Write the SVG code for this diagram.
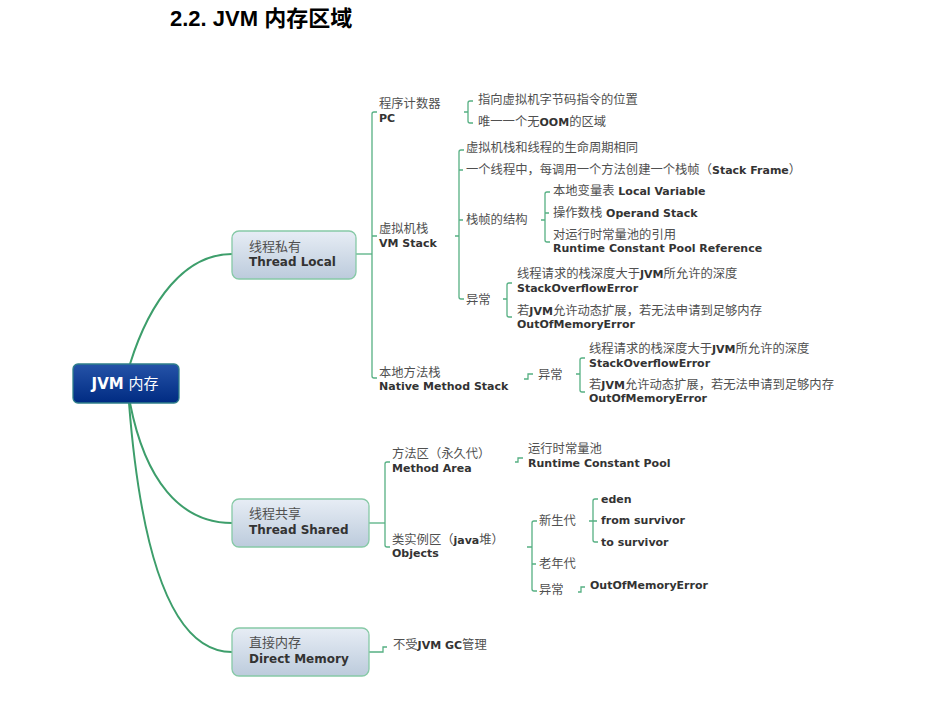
<svg xmlns="http://www.w3.org/2000/svg" width="926" height="719" viewBox="0 0 926 719">
<defs>
<linearGradient id="gJvm" x1="0" y1="0" x2="0" y2="1">
<stop offset="0" stop-color="#2553a8"/>
<stop offset="1" stop-color="#002b82"/>
</linearGradient>
<linearGradient id="gNode" x1="0" y1="0" x2="0" y2="1">
<stop offset="0" stop-color="#e7edf5"/>
<stop offset="1" stop-color="#bccbdc"/>
</linearGradient>
<style>
.t{font-family:"DejaVu Sans","Noto Sans CJK SC",sans-serif;font-size:12.3px;fill:#505050}
.b{font-weight:bold;font-size:11px;fill:#333}
.nt{font-family:"DejaVu Sans","Noto Sans CJK SC",sans-serif;font-size:13px;fill:#505050}
.nb{font-weight:bold;font-size:12px;fill:#333}
.ln{fill:none;stroke:#56b083;stroke-width:1.3}
.cv{fill:none;stroke:#3d9e6b;stroke-width:2}
.box{fill:url(#gNode);stroke:#86c9a6;stroke-width:1.3}
</style>
</defs>
<rect width="926" height="719" fill="#fff"/>
<text x="170" y="26" font-family="'Liberation Sans','Noto Sans CJK SC',sans-serif" font-weight="bold" font-size="22" fill="#000">2.2. JVM 内存区域</text>

<g id="connectors">
<path class="cv" d="M130,364 C150,300 185,254 232,254"/>
<path class="cv" d="M130,403 C145,480 180,523 232,523"/>
<path class="cv" d="M129,403 C139,530 165,652 232,652"/>
<path class="ln" d="M356,254 H372"/>
<path class="ln" d="M377,112 H374 Q372,112 372,114 V376 Q372,378 374,378 H377 M372,236 H377"/>
<path class="ln" d="M473,101 H470 Q468,101 468,103 V121 Q468,123 470,123 H473 M464,112 H468"/>
<path class="ln" d="M464,150 H461 Q459,150 459,152 V297 Q459,299 461,299 H464 M459,170 H463 M459,220 H463 M455,236 H459"/>
<path class="ln" d="M550,192 H547 Q545,192 545,194 V240 Q545,242 547,242 H550 M545,213 H549 M541,220 H545"/>
<path class="ln" d="M512,283 H509 Q507,283 507,285 V315 Q507,317 509,317 H512 M503,299 H507"/>
<path class="ln" d="M524,379 H528 V374 H533"/>
<path class="ln" d="M585,358 H582 Q580,358 580,360 V390 Q580,392 582,392 H585 M576,374 H580"/>
<path class="ln" d="M369,523 H385"/>
<path class="ln" d="M390,462 H387 Q385,462 385,464 V545 Q385,547 387,547 H390"/>
<path class="ln" d="M515,462 H518 V458 H523"/>
<path class="ln" d="M537,521 H534 Q532,521 532,523 V589 Q532,591 534,591 H537 M532,564 H536 M527,547 H532"/>
<path class="ln" d="M598,499 H595 Q593,499 593,501 V540 Q593,542 595,542 H598 M589,521 H597"/>
<path class="ln" d="M578,592 H581 V587 H585"/>
<path class="ln" d="M369,652 H383 V647 H387"/>
</g>

<g id="jvm">
<rect x="73" y="364" width="106" height="39" rx="5" fill="url(#gJvm)" stroke="#2f7f8a" stroke-width="1.3"/>
<text x="125" y="389" text-anchor="middle" font-family="'DejaVu Sans','Noto Sans CJK SC',sans-serif" font-size="15" fill="#fff"><tspan font-weight="bold">JVM</tspan> 内存</text>
</g>

<g id="thread-local">
<rect class="box" x="232" y="231" width="124" height="48" rx="7"/>
<text class="nt" x="249" y="251">线程私有</text>
<text class="nt" x="249" y="266"><tspan class="nb">Thread Local</tspan></text>
</g>
<g id="thread-shared">
<rect class="box" x="232" y="499" width="137" height="48" rx="7"/>
<text class="nt" x="249" y="518">线程共享</text>
<text class="nt" x="249" y="534"><tspan class="nb">Thread Shared</tspan></text>
</g>
<g id="direct-memory">
<rect class="box" x="232" y="628" width="137" height="48" rx="7"/>
<text class="nt" x="249" y="647">直接内存</text>
<text class="nt" x="249" y="663"><tspan class="nb">Direct Memory</tspan></text>
</g>

<g id="pc">
<text class="t" x="379" y="108">程序计数器</text>
<text class="t" x="379" y="122"><tspan class="b">PC</tspan></text>
</g>
<g id="pc-1"><text class="t" x="478" y="104">指向虚拟机字节码指令的位置</text></g>
<g id="pc-2"><text class="t" x="478" y="126">唯一一个无<tspan class="b">OOM</tspan>的区域</text></g>

<g id="vm-stack">
<text class="t" x="379" y="233">虚拟机栈</text>
<text class="t" x="379" y="247"><tspan class="b">VM Stack</tspan></text>
</g>
<g id="vm-1"><text class="t" x="466" y="152">虚拟机栈和线程的生命周期相同</text></g>
<g id="vm-2"><text class="t" x="466" y="174">一个线程中，每调用一个方法创建一个栈帧（<tspan class="b">Stack Frame</tspan>）</text></g>
<g id="vm-frame"><text class="t" x="466" y="224">栈帧的结构</text></g>
<g id="frame-1"><text class="t" x="553" y="195">本地变量表<tspan class="b"> Local Variable</tspan></text></g>
<g id="frame-2"><text class="t" x="553" y="217">操作数栈<tspan class="b"> Operand Stack</tspan></text></g>
<g id="frame-3">
<text class="t" x="553" y="239">对运行时常量池的引用</text>
<text class="t" x="553" y="252"><tspan class="b">Runtime Constant Pool Reference</tspan></text>
</g>
<g id="vm-exc"><text class="t" x="466" y="304">异常</text></g>
<g id="vm-exc-1">
<text class="t" x="517" y="278">线程请求的栈深度大于<tspan class="b">JVM</tspan>所允许的深度</text>
<text class="t" x="517" y="292"><tspan class="b">StackOverflowError</tspan></text>
</g>
<g id="vm-exc-2">
<text class="t" x="517" y="315">若<tspan class="b">JVM</tspan>允许动态扩展，若无法申请到足够内存</text>
<text class="t" x="517" y="328"><tspan class="b">OutOfMemoryError</tspan></text>
</g>

<g id="native">
<text class="t" x="379" y="377">本地方法栈</text>
<text class="t" x="379" y="390"><tspan class="b">Native Method Stack</tspan></text>
</g>
<g id="native-exc"><text class="t" x="538" y="379">异常</text></g>
<g id="native-exc-1">
<text class="t" x="589" y="353">线程请求的栈深度大于<tspan class="b">JVM</tspan>所允许的深度</text>
<text class="t" x="589" y="367"><tspan class="b">StackOverflowError</tspan></text>
</g>
<g id="native-exc-2">
<text class="t" x="589" y="389">若<tspan class="b">JVM</tspan>允许动态扩展，若无法申请到足够内存</text>
<text class="t" x="589" y="402"><tspan class="b">OutOfMemoryError</tspan></text>
</g>

<g id="method-area">
<text class="t" x="392" y="458">方法区（永久代）</text>
<text class="t" x="392" y="472"><tspan class="b">Method Area</tspan></text>
</g>
<g id="rcp">
<text class="t" x="528" y="453">运行时常量池</text>
<text class="t" x="528" y="467"><tspan class="b">Runtime Constant Pool</tspan></text>
</g>
<g id="objects">
<text class="t" x="392" y="544">类实例区（<tspan class="b">java</tspan>堆）</text>
<text class="t" x="392" y="557"><tspan class="b">Objects</tspan></text>
</g>
<g id="young"><text class="t" x="539" y="525">新生代</text></g>
<g id="eden"><text class="t" x="601" y="503"><tspan class="b">eden</tspan></text></g>
<g id="from"><text class="t" x="601" y="524"><tspan class="b">from survivor</tspan></text></g>
<g id="to"><text class="t" x="601" y="546"><tspan class="b">to survivor</tspan></text></g>
<g id="old"><text class="t" x="539" y="568">老年代</text></g>
<g id="obj-exc"><text class="t" x="539" y="594">异常</text></g>
<g id="obj-oom"><text class="t" x="590" y="589"><tspan class="b">OutOfMemoryError</tspan></text></g>

<g id="direct-1"><text class="t" x="393" y="649">不受<tspan class="b">JVM GC</tspan>管理</text></g>
</svg>
